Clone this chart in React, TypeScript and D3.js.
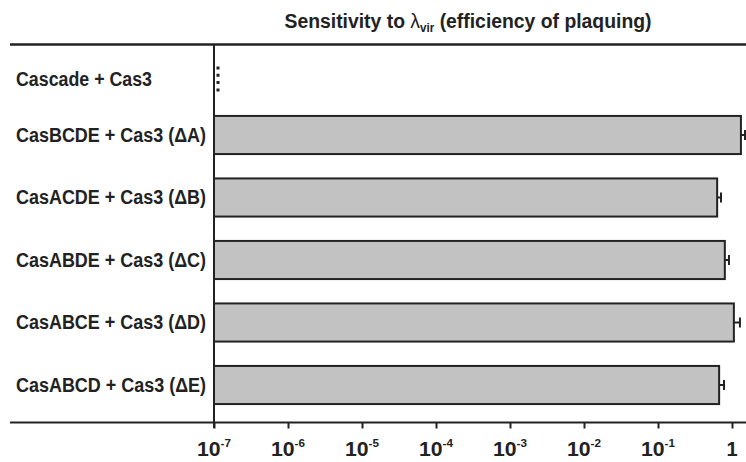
import React, { useEffect, useRef } from 'react';
import * as d3 from 'd3';

// rows, top to bottom
const strains = [
  'Cascade + Cas3',
  'CasBCDE + Cas3 (\u0394A)',
  'CasACDE + Cas3 (\u0394B)',
  'CasABDE + Cas3 (\u0394C)',
  'CasABCE + Cas3 (\u0394D)',
  'CasABCD + Cas3 (\u0394E)',
];
// efficiency of plaquing (null = below detection)
const eop: (number | null)[] = [null, 1.32, 0.63, 0.8, 1.06, 0.67];
const eopErr: (number | null)[] = [null, 1.5, 0.71, 0.91, 1.28, 0.78];
const tickExps = [-7, -6, -5, -4, -3, -2, -1, 0];

const App = () => {
  const ref = useRef<SVGSVGElement>(null);

  useEffect(() => {
    const svg = d3.select(ref.current);
    svg.selectAll('*').remove();

    const width = 746;
    const height = 462;
    const font = "'Liberation Sans Narrow', 'Arial Narrow', 'Liberation Sans', Arial, sans-serif";

    const x = d3.scaleLog().domain([1e-7, 1]).range([214, 732]);
    const y = d3.scaleBand().domain(strains).range([41.25, 416.25]).paddingInner(0.39).paddingOuter(0.195);

    const rows = strains.map((s, i) => ({ name: s, value: eop[i], err: eopErr[i] }));

    // title
    const title = svg.append('text')
      .attr('x', 468)
      .attr('y', 28)
      .attr('text-anchor', 'middle')
      .attr('font-family', font)
      .attr('font-weight', 'bold')
      .attr('font-size', 20)
      .attr('fill', '#222')
      .attr('textLength', 367)
      .attr('lengthAdjust', 'spacingAndGlyphs');
    title.append('tspan').text('Sensitivity to ');
    title.append('tspan').attr('font-weight', 'normal').text('\u03bb');
    title.append('tspan').attr('font-size', 12).attr('dy', 4).text('vir');
    title.append('tspan').attr('dy', -4).text(' (efficiency of plaquing)');

    // top rule
    svg.append('line')
      .attr('x1', 10).attr('x2', width)
      .attr('y1', 44.5).attr('y2', 44.5)
      .attr('stroke', '#222').attr('stroke-width', 2.5);

    // bars
    const bars = rows.filter(d => d.value != null);
    svg.append('g').selectAll('rect')
      .data(bars)
      .enter().append('rect')
      .attr('x', x(1e-7))
      .attr('y', d => y(d.name)!)
      .attr('width', d => x(d.value!) - x(1e-7))
      .attr('height', y.bandwidth())
      .attr('fill', '#c2c2c2')
      .attr('stroke', '#222')
      .attr('stroke-width', 2);

    // error bars
    const eb = svg.append('g').attr('stroke', '#222').attr('stroke-width', 2);
    bars.forEach(d => {
      const cy = y(d.name)! + y.bandwidth() / 2;
      eb.append('line')
        .attr('x1', x(d.value!)).attr('x2', x(d.err!))
        .attr('y1', cy).attr('y2', cy);
      eb.append('line')
        .attr('x1', x(d.err!)).attr('x2', x(d.err!))
        .attr('y1', cy - 5).attr('y2', cy + 5);
    });

    // not detected: dotted mark
    rows.filter(d => d.value == null).forEach(d => {
      const cy = y(d.name)! + y.bandwidth() / 2 + 7;
      svg.append('line')
        .attr('x1', x(1e-7) + 4).attr('x2', x(1e-7) + 4)
        .attr('y1', cy - 13).attr('y2', cy + 13)
        .attr('stroke', '#222')
        .attr('stroke-width', 3)
        .attr('stroke-dasharray', '3,4.3');
    });

    // row labels
    svg.append('g').selectAll('text')
      .data(rows)
      .enter().append('text')
      .attr('x', 16)
      .attr('y', (d, i) => y(d.name)! + y.bandwidth() / 2 + 6.5 + (i === 0 ? 7 : 0))
      .attr('font-family', font)
      .attr('font-weight', 'bold')
      .attr('font-size', 19.5)
      .attr('fill', '#222')
      .attr('textLength', (d, i) => (i === 0 ? 136 : 190))
      .attr('lengthAdjust', 'spacingAndGlyphs')
      .text(d => d.name);

    // vertical axis
    svg.append('line')
      .attr('x1', x(1e-7)).attr('x2', x(1e-7))
      .attr('y1', 44).attr('y2', 428)
      .attr('stroke', '#222').attr('stroke-width', 2);

    // bottom axis
    const xAxis = svg.append('g')
      .attr('transform', 'translate(0,422.5)')
      .call(d3.axisBottom(x).tickValues(tickExps.map(e => Math.pow(10, e))).tickSize(6).tickFormat(() => ''));
    xAxis.select('.domain').remove();
    xAxis.selectAll('line').attr('stroke', '#222').attr('stroke-width', 2);
    xAxis.append('line')
      .attr('x1', 10).attr('x2', width)
      .attr('stroke', '#222').attr('stroke-width', 2);

    const labels = svg.append('g')
      .attr('font-family', font)
      .attr('font-weight', 'bold')
      .attr('fill', '#222');
    tickExps.forEach(e => {
      const t = labels.append('text')
        .attr('x', x(Math.pow(10, e)))
        .attr('y', 456)
        .attr('text-anchor', 'middle')
        .attr('font-size', 20)
        .attr('fill', '#222');
      if (e === 0) {
        t.text('1');
      } else {
        t.attr('textLength', 34).attr('lengthAdjust', 'spacingAndGlyphs');
        t.append('tspan').text('10');
        t.append('tspan').attr('font-size', 11).attr('dy', -9).text(String(e));
      }
    });

    svg.attr('width', width).attr('height', height);
  }, []);

  return (
    <svg ref={ref} width={746} height={462} style={{ position: 'absolute', left: 0, top: 0 }} />
  );
};

export default App;
